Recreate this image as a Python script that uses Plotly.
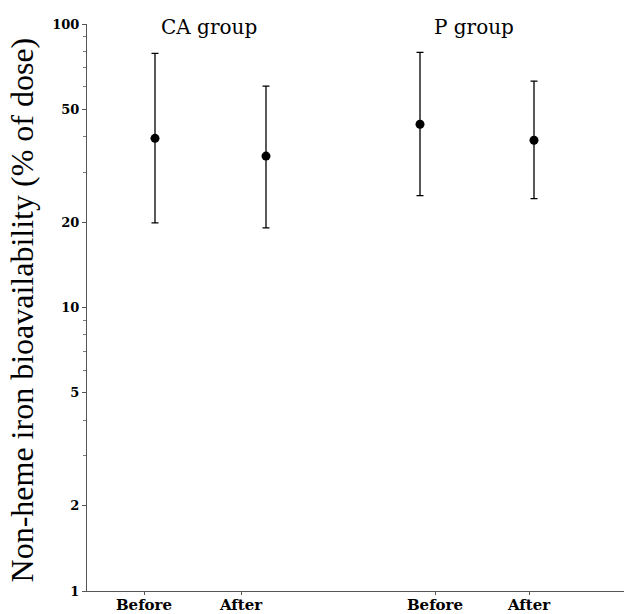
import plotly.graph_objects as go

# Data
groups = ["CA group", "CA group", "P group", "P group"]
conditions = ["Before", "After", "Before", "After"]
point_x = [0.68, 1.79, 3.33, 4.47]          # horizontal position of each estimate
means = [39.5, 34.2, 44.3, 38.9]            # % of dose
upper = [78.8, 60.4, 79.4, 62.9]
lower = [19.9, 19.1, 24.8, 24.2]

tick_x = [0.57, 1.54, 3.48, 4.42]
tick_text = ["Before", "After", "Before", "After"]

group_labels = ["CA group", "P group"]
group_label_x = [1.22, 3.87]

y_tickvals = [1, 2, 5, 10, 20, 50, 100]
y_minor = [3, 4, 6, 7, 8, 9, 30, 40, 60, 70, 80, 90]

err_plus = [u - m for u, m in zip(upper, means)]
err_minus = [m - l for m, l in zip(means, lower)]

fig = go.Figure()
fig.add_trace(go.Scatter(
    x=point_x, y=means, mode="markers",
    marker=dict(color="black", size=9),
    error_y=dict(type="data", symmetric=False, array=err_plus, arrayminus=err_minus,
                 color="black", thickness=1.3, width=3.5),
    customdata=list(zip(groups, conditions)),
    hovertemplate="%{customdata[0]} %{customdata[1]}: %{y}<extra></extra>",
    showlegend=False,
))

for txt, gx in zip(group_labels, group_label_x):
    fig.add_annotation(x=gx, y=0.9947, xref="x", yref="paper", text=txt,
                       showarrow=False, yanchor="middle", xanchor="center",
                       font=dict(family="DejaVu Serif", size=20, color="black"))

fig.add_annotation(x=-0.119, y=0.495, xref="paper", yref="paper",
                   text="Non-heme iron bioavailability (% of dose)",
                   textangle=-90, showarrow=False, xanchor="center", yanchor="middle",
                   font=dict(family="Liberation Serif", size=32, color="black"))

fig.update_layout(
    width=624, height=606,
    margin=dict(l=79, r=0, t=16, b=23),
    paper_bgcolor="white", plot_bgcolor="white",
    xaxis=dict(range=[0, 5.45], showgrid=False, zeroline=False,
               showline=True, linecolor="#555", linewidth=1.2,
               tickmode="array", tickvals=tick_x, ticktext=tick_text,
               ticks="outside", ticklen=3, tickcolor="#555",
               ticklabelstandoff=-3,
               tickfont=dict(family="DejaVu Serif", size=15, color="black", weight="bold"),
               automargin=False),
    yaxis=dict(type="log", range=[0, 2], showgrid=False, zeroline=False,
               showline=True, linecolor="#555", linewidth=1.2,
               tickmode="array", tickvals=y_tickvals, ticktext=[str(v) for v in y_tickvals],
               ticks="outside", ticklen=4, tickcolor="#555",
               tickfont=dict(family="DejaVu Serif", size=13, color="black", weight="bold"),
               minor=dict(tickmode="array", tickvals=y_minor, ticks="outside",
                          ticklen=3, tickcolor="#777", showgrid=False),
               automargin=False),
)

fig.write_html("out.html")
